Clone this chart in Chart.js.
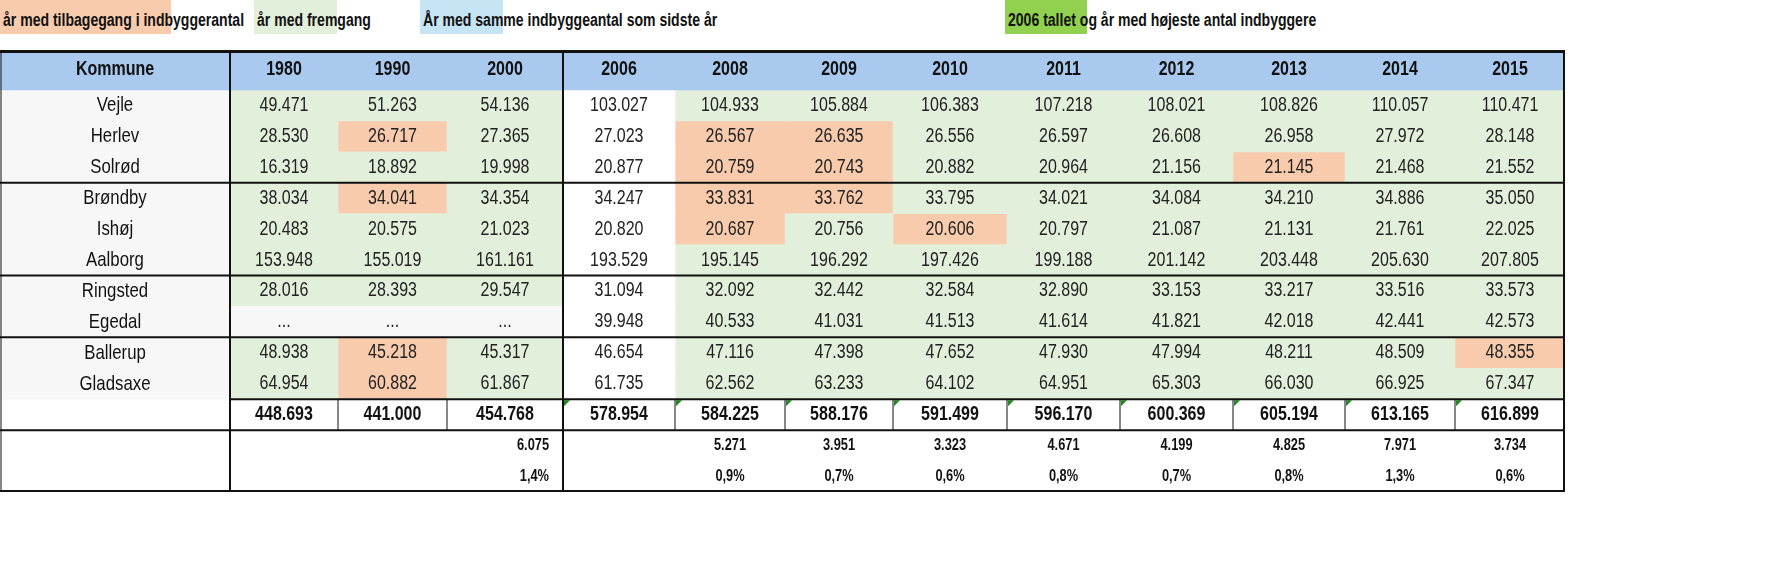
<!DOCTYPE html>
<html><head><meta charset="utf-8">
<script src="https://cdn.jsdelivr.net/npm/chart.js@4"></script>
<style>
body{margin:0;background:#fff;width:1791px;height:564px;position:relative;overflow:hidden;font-family:"DejaVu Sans Condensed","DejaVu Sans",sans-serif}
.bg{position:absolute;top:0;height:34px}
.lg{position:absolute;top:0;height:34px;line-height:40px;font-weight:bold;font-size:18px;color:#111;white-space:nowrap;transform:scaleX(0.78);transform-origin:0 0;font-family:"Liberation Sans",sans-serif}
#wrap{position:absolute;left:0;top:50px;width:1791px;height:442px}
</style></head><body>
<div class="bg" style="left:0;width:171px;background:#f8cbad"></div>
<div class="bg" style="left:254px;width:83px;background:#e2efda"></div>
<div class="bg" style="left:420px;width:83px;background:#c5e5f5"></div>
<div class="bg" style="left:1005px;width:82px;background:#92d050"></div>
<div class="lg" style="left:3px">år med tilbagegang i indbyggerantal</div>
<div class="lg" style="left:257px">år med fremgang</div>
<div class="lg" style="left:423px">År med samme indbyggeantal som sidste år</div>
<div class="lg" style="left:1008px">2006 tallet og år med højeste antal indbyggere</div>
<div id="wrap"><canvas id="c"></canvas></div>
<script>
const years = ["1980","1990","2000","2006","2008","2009","2010","2011","2012","2013","2014","2015"];
const communes = ["Vejle","Herlev","Solrød","Brøndby","Ishøj","Aalborg","Ringsted","Egedal","Ballerup","Gladsaxe"];
const values = [
 ["49.471","51.263","54.136","103.027","104.933","105.884","106.383","107.218","108.021","108.826","110.057","110.471"],
 ["28.530","26.717","27.365","27.023","26.567","26.635","26.556","26.597","26.608","26.958","27.972","28.148"],
 ["16.319","18.892","19.998","20.877","20.759","20.743","20.882","20.964","21.156","21.145","21.468","21.552"],
 ["38.034","34.041","34.354","34.247","33.831","33.762","33.795","34.021","34.084","34.210","34.886","35.050"],
 ["20.483","20.575","21.023","20.820","20.687","20.756","20.606","20.797","21.087","21.131","21.761","22.025"],
 ["153.948","155.019","161.161","193.529","195.145","196.292","197.426","199.188","201.142","203.448","205.630","207.805"],
 ["28.016","28.393","29.547","31.094","32.092","32.442","32.584","32.890","33.153","33.217","33.516","33.573"],
 ["...","...","...","39.948","40.533","41.031","41.513","41.614","41.821","42.018","42.441","42.573"],
 ["48.938","45.218","45.317","46.654","47.116","47.398","47.652","47.930","47.994","48.211","48.509","48.355"],
 ["64.954","60.882","61.867","61.735","62.562","63.233","64.102","64.951","65.303","66.030","66.925","67.347"]
];
const status = [
 "gggwgggggggg","grgwrrgggggg","gggwrrgggrgg","grgwrrgggggg","gggwrgrggggg",
 "gggwgggggggg","gggwgggggggg","xxxwgggggggg","grgwgggggggr","grgwgggggggg"];
const totals = ["448.693","441.000","454.768","578.954","584.225","588.176","591.499","596.170","600.369","605.194","613.165","616.899"];
const diffs = ["","","6.075","","5.271","3.951","3.323","4.671","4.199","4.825","7.971","3.734"];
const pcts = ["","","1,4%","","0,9%","0,7%","0,6%","0,8%","0,7%","0,8%","1,3%","0,6%"];

const edges=[0,230,338,447,563,675,785,893,1007,1120,1233,1345,1455,1565];
const HDR=-0.645;
const colors={g:"#e2efda",r:"#f8cbad",w:"#ffffff",x:"#f7f7f7"};
const ds={g:[],r:[],w:[],x:[]};
status.forEach((s,i)=>{[...s].forEach((c,j)=>ds[c].push({x:[edges[j+1],edges[j+2]],y:i+0.5}));});
const kom=communes.map((c,i)=>({x:[edges[0],edges[1]],y:i+0.5}));
const mk=(data,col,th)=>({data,backgroundColor:col,barThickness:th,grouped:false,borderWidth:0,borderSkipped:false});
const F='"Liberation Sans",sans-serif';
const SX=0.8;
function ft(c,t,x,y,al){c.save();c.translate(x,y);c.scale(SX,1);c.textAlign=al||"center";c.fillText(t,0,0);c.restore();}
const textPlugin={id:"tbl",afterDatasetsDraw(ch){
 const c=ch.ctx,X=ch.scales.x,Y=ch.scales.y;
 const cx=j=>(X.getPixelForValue(edges[j])+X.getPixelForValue(edges[j+1]))/2;
 const px=v=>X.getPixelForValue(v), py=v=>Y.getPixelForValue(v);
 c.save();c.textBaseline="middle";c.fillStyle="#111";
 c.font="bold 20px "+F;
 ft(c,"Kommune",cx(0),py(HDR));
 years.forEach((y,j)=>ft(c,y,cx(j+1),py(HDR)));
 communes.forEach((n,i)=>{
  c.font="21px "+F;c.fillStyle="#111";ft(c,n,cx(0),py(i+0.5));
  c.font="20px "+F;c.fillStyle="#222";
  values[i].forEach((v,j)=>ft(c,v,cx(j+1),py(i+0.5)));
 });
 c.font="bold 20px "+F;c.fillStyle="#111";
 totals.forEach((v,j)=>ft(c,v,cx(j+1),py(10.5)));
 c.font="bold 16px "+F;
 diffs.forEach((v,j)=>{if(!v)return; if(j==2){ft(c,v,px(edges[4])-14,py(11.5),"right");ft(c,pcts[j],px(edges[4])-14,py(12.5),"right");}else{ft(c,v,cx(j+1),py(11.5));ft(c,pcts[j],cx(j+1),py(12.5));}});
 c.fillStyle="#1f8a1f";
 for(let j=4;j<13;j++){const x=px(edges[j]),y=py(10);c.beginPath();c.moveTo(x+1,y+1);c.lineTo(x+7,y+1);c.lineTo(x+1,y+7);c.fill();}
 c.strokeStyle="#111";
 const h=(a,b,v,w)=>{c.lineWidth=w;c.beginPath();c.moveTo(px(a),py(v));c.lineTo(px(b),py(v));c.stroke();};
 const vl=(x,a,b,w)=>{c.lineWidth=w;c.beginPath();c.moveTo(px(x),py(a));c.lineTo(px(x),py(b));c.stroke();};
 h(0,1565,HDR-0.645+0.05,3);
 [3,6,8].forEach(v=>h(0,1565,v,2));
 h(230,1565,10,2);h(0,1565,11,2);h(0,1565,12.97,2);
 vl(230,HDR-0.645,13,2);vl(563,HDR-0.645,13,2);vl(1564,HDR-0.645,13,2);vl(1,HDR-0.645,13,1);
 [338,447,675,785,893,1007,1120,1233,1345,1455].forEach(x=>vl(x,10,11,1));
 c.restore();
}};
new Chart(document.getElementById("c"),{type:"bar",
 data:{datasets:[mk([{x:[0,1565],y:HDR}],"#a9caee",40),mk(kom,"#f7f7f7",31),
  mk(ds.x,colors.x,31),mk(ds.w,colors.w,31),mk(ds.g,colors.g,31),mk(ds.r,colors.r,31)]},
 options:{indexAxis:"y",responsive:true,maintainAspectRatio:false,animation:false,
  layout:{padding:{left:0,right:226,top:0,bottom:0}},
  plugins:{legend:{display:false},tooltip:{enabled:false}},
  scales:{x:{type:"linear",min:0,max:1565,display:false,offset:false},
          y:{type:"linear",min:-1.29,max:13,reverse:true,display:false,offset:false}}},
 plugins:[textPlugin]});
</script></body></html>
